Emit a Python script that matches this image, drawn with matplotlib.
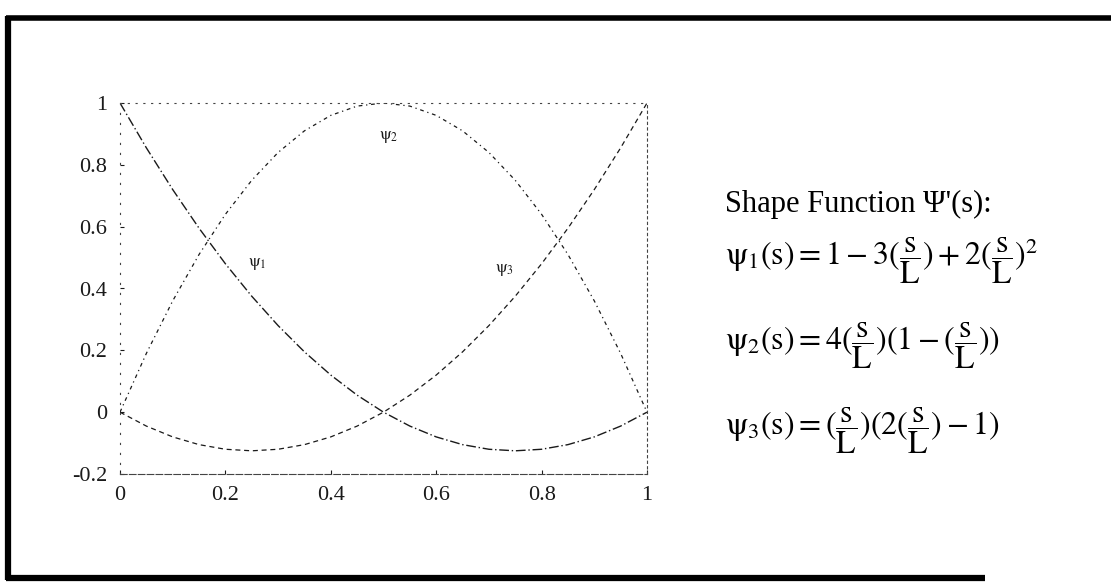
import matplotlib
matplotlib.use("Agg")
import matplotlib.pyplot as plt
from matplotlib.lines import Line2D

plt.rcParams["font.family"] = ["Liberation Serif", "DejaVu Serif"]
plt.rcParams["mathtext.fontset"] = "stix"

# normalised arc position s/L
s = [0.00, 0.05, 0.10, 0.15, 0.20, 0.25, 0.30, 0.35, 0.40, 0.45, 0.50,
     0.55, 0.60, 0.65, 0.70, 0.75, 0.80, 0.85, 0.90, 0.95, 1.00]

psi1 = [1.000, 0.855, 0.720, 0.595, 0.480, 0.375, 0.280, 0.195, 0.120, 0.055, 0.000,
        -0.045, -0.080, -0.105, -0.120, -0.125, -0.120, -0.105, -0.080, -0.045, 0.000]
psi2 = [0.000, 0.190, 0.360, 0.510, 0.640, 0.750, 0.840, 0.910, 0.960, 0.990, 1.000,
        0.990, 0.960, 0.910, 0.840, 0.750, 0.640, 0.510, 0.360, 0.190, 0.000]
psi3 = [0.000, -0.045, -0.080, -0.105, -0.120, -0.125, -0.120, -0.105, -0.080, -0.045, 0.000,
        0.055, 0.120, 0.195, 0.280, 0.375, 0.480, 0.595, 0.720, 0.855, 1.000]

x_ticks = [0, 0.2, 0.4, 0.6, 0.8, 1]
x_tick_labels = ["0", "0.2", "0.4", "0.6", "0.8", "1"]
y_ticks = [-0.2, 0, 0.2, 0.4, 0.6, 0.8, 1]
y_tick_labels = ["-0.2", "0", "0.2", "0.4", "0.6", "0.8", "1"]

curve_labels = [r"$\mathrm{\psi}_1$", r"$\mathrm{\psi}_2$", r"$\mathrm{\psi}_3$"]
curve_label_pos = [(0.26, 0.48), (0.51, 0.89), (0.73, 0.46)]

title_text = "Shape Function \u03a8'(s):"
formulas = [
    r"$\mathrm{\psi}_1(\mathrm{s}) = 1 - 3(\dfrac{\mathrm{s}}{\mathrm{L}}) + 2(\dfrac{\mathrm{s}}{\mathrm{L}})^2$",
    r"$\mathrm{\psi}_2(\mathrm{s}) = 4(\dfrac{\mathrm{s}}{\mathrm{L}})(1 - (\dfrac{\mathrm{s}}{\mathrm{L}}))$",
    r"$\mathrm{\psi}_3(\mathrm{s}) = (\dfrac{\mathrm{s}}{\mathrm{L}})(2(\dfrac{\mathrm{s}}{\mathrm{L}}) - 1)$",
]

W, H = 1111, 585
fig = plt.figure(figsize=(W / 100, H / 100), dpi=100)
fig.patch.set_facecolor("white")

ax = fig.add_axes([120 / W, 1 - 474 / H, 527 / W, 371 / H])
ink = "#1a1a1a"
ax.plot(s, psi1, color=ink, lw=1.0, ls=(0, (7, 2, 1, 2)))
ax.plot(s, psi2, color=ink, lw=0.9, ls=(0, (3, 3, 1, 3)))
ax.plot(s, psi3, color=ink, lw=0.9, ls=(0, (4, 3)))

for lab, (lx, ly) in zip(curve_labels, curve_label_pos):
    ax.text(lx, ly, lab, fontsize=12, ha="center", va="center", color=ink)

ax.set_xlim(0, 1)
ax.set_ylim(-0.2, 1)
ax.set_xticks(x_ticks)
ax.set_xticklabels(x_tick_labels)
ax.set_yticks(y_ticks)
ax.set_yticklabels(y_tick_labels)
ax.tick_params(direction="in", length=3, width=0.8, colors=ink, labelsize=16)
ax.tick_params(axis="x", pad=9)
ax.tick_params(axis="y", pad=9)
ax.tick_params(top=False, right=False)

for side, sp in ax.spines.items():
    sp.set_color("#444444")
    sp.set_linewidth(0.8)
ax.spines["bottom"].set_linestyle((0, (6, 2)))
ax.spines["top"].set_linestyle((0, (1, 6)))
ax.spines["right"].set_linestyle((0, (2, 3)))
ax.spines["left"].set_linestyle((0, (1, 8)))

# text block beside the plot
tx = 725 / W
fig.text(tx, 1 - 212 / H, title_text, fontsize=22, va="baseline", ha="left", color="black")
for i, f in enumerate(formulas):
    yc = 261 + 85 * i
    fig.text(tx, 1 - yc / H, f, fontsize=23, va="center", ha="left", color="black")

# heavy border lines around the figure
def px_line(x0, y0, x1, y1, lw):
    fig.add_artist(Line2D([x0 / W, x1 / W], [1 - y0 / H, 1 - y1 / H],
                          transform=fig.transFigure, color="black", lw=lw,
                          solid_capstyle="butt"))

px_line(6, 18, W, 18, 4.0)
px_line(8, 16, 8, 580, 4.5)
px_line(6, 578, 985, 578, 4.5)

fig.savefig("out.png", dpi=100, facecolor="white")
